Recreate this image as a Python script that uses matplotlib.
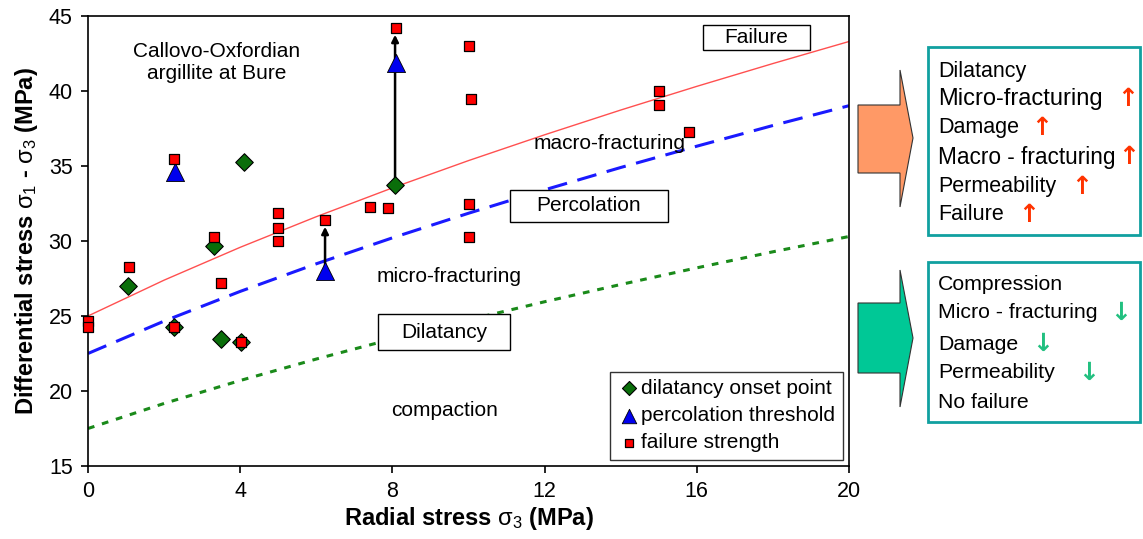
import matplotlib
matplotlib.use("Agg")
import matplotlib.pyplot as plt
from matplotlib.patches import Polygon, Rectangle

plt.rcParams['font.family'] = ['Liberation Sans', 'DejaVu Sans']
plt.rcParams['mathtext.fontset'] = 'custom'
plt.rcParams['mathtext.rm'] = 'Liberation Sans'
plt.rcParams['mathtext.it'] = 'Liberation Sans'

# =========================
# DATOS
# =========================
# failure strength
fail_x = [0, 0, 1.08, 2.26, 2.26, 3.31, 3.5, 4.02, 5.0, 5.0, 5.0, 6.23, 7.41, 7.88,
          8.09, 10.0, 10.07, 10.0, 10.0, 15.0, 15.0, 15.8]
fail_y = [24.7, 24.3, 28.3, 35.5, 24.3, 30.3, 27.2, 23.3, 31.9, 30.9, 30.0, 31.4, 32.3, 32.2,
          44.2, 43.0, 39.5, 32.5, 30.3, 40.0, 39.1, 37.3]

# dilatancy onset
dil_x = [1.05, 2.26, 3.3, 3.5, 4.1, 4.02, 8.07]
dil_y = [27.0, 24.3, 29.7, 23.5, 35.3, 23.3, 33.7]

# percolation threshold
perc_x = [2.29, 6.23, 8.09]
perc_y = [34.6, 28.0, 41.9]

# flechas (inicio -> fin)
arr_x = [2.29, 6.23, 8.07]
arr_y0 = [34.6, 28.0, 33.7]
arr_y1 = [35.5, 31.4, 44.2]

# envolventes
env_x = [0, 2, 4, 6, 8, 10, 12, 14, 16, 18, 20]
fail_env = [25.0, 27.39, 29.58, 31.62, 33.54, 35.36, 37.08, 38.73, 40.31, 41.83, 43.30]
perc_env = [22.5, 24.66, 26.64, 28.48, 30.21, 31.85, 33.41, 34.90, 36.32, 37.70, 39.02]
comp_env = [17.5, 19.17, 20.70, 22.13, 23.47, 24.74, 25.95, 27.10, 28.21, 29.28, 30.30]

W, H = 1143, 539


def fx(px):
    return px / W


def fy(py):
    return 1 - py / H


# =========================
# GRAFICAR
# =========================
fig = plt.figure(figsize=(W / 100, H / 100), dpi=100)
ax = fig.add_axes([fx(88), fy(466), fx(849) - fx(88), fy(16) - fy(466)])

ax.plot(env_x, fail_env, color='#ff5050', lw=1.0)
ax.plot(env_x, perc_env, color='#1a1aff', lw=2.2, dashes=(6.5, 3.5))
ax.plot(env_x, comp_env, color='#1a8a1a', lw=2.2, dashes=(2.2, 2.6))

for x, y0, y1 in zip(arr_x, arr_y0, arr_y1):
    ax.annotate('', xy=(x, y1 - 0.45), xytext=(x, y0),
                arrowprops=dict(arrowstyle='-|>', color='black', lw=1.8,
                                mutation_scale=10, shrinkA=0, shrinkB=0))

ax.scatter(dil_x, dil_y, marker='D', s=80, c='#0a6e0a', edgecolors='black',
           linewidths=0.8, zorder=3, clip_on=False, label='dilatancy onset point')
ax.scatter(perc_x, perc_y, marker='^', s=170, c='#0000ee', edgecolors='black',
           linewidths=0.6, zorder=4, clip_on=False, label='percolation threshold')
ax.scatter(fail_x, fail_y, marker='s', s=45, c='#ff0000', edgecolors='black',
           linewidths=0.9, zorder=5, clip_on=False, label='failure strength')

ax.set_xlim(0, 20)
ax.set_ylim(15, 45)
ax.set_xticks([0, 4, 8, 12, 16, 20])
ax.set_yticks([15, 20, 25, 30, 35, 40, 45])
ax.tick_params(direction='out', length=5, width=1.2, labelsize=15.5, pad=6)
for s in ax.spines.values():
    s.set_linewidth(1.2)
ax.set_xlabel(r'Radial stress $\sigma_3$ (MPa)', fontsize=17, fontweight='bold', labelpad=2)
ax.set_ylabel(r'Differential stress $\sigma_1$ - $\sigma_3$ (MPa)', fontsize=17,
              fontweight='bold', labelpad=6)

leg = ax.legend(loc='lower right', fontsize=15, frameon=True, fancybox=False,
                edgecolor='black', handletextpad=0.05, borderpad=0.35, labelspacing=0.4,
                handlelength=1.1, borderaxespad=0.3, markerscale=0.8)
leg.get_frame().set_linewidth(1.0)

txt = dict(ha='center', va='center', fontsize=15)
ax.text(3.39, 41.9, 'Callovo-Oxfordian\nargillite at Bure', linespacing=1.25, **txt)
ax.text(13.7, 36.5, 'macro-fracturing', **txt)
ax.text(9.5, 27.6, 'micro-fracturing', **txt)
ax.text(9.36, 18.7, 'compaction', **txt)

# cajas de zona: (x0, x1, y0, y1, texto)
zone_boxes = [(16.16, 18.98, 42.73, 44.4, 'Failure'),
              (11.09, 15.24, 31.27, 33.4, 'Percolation'),
              (7.62, 11.09, 22.73, 25.13, 'Dilatancy')]
for x0, x1, y0, y1, label in zone_boxes:
    ax.add_patch(Rectangle((x0, y0), x1 - x0, y1 - y0, fc='white', ec='black',
                           lw=1.0, zorder=2))
    ax.text((x0 + x1) / 2, (y0 + y1) / 2, label, zorder=6, **txt)

# =========================
# PANEL DERECHO
# =========================
def block_arrow(ytop, ybody_top, ybody_bot, ybot, ytip, color):
    pts = [(858, ybody_top), (900, ybody_top), (900, ytop), (913, ytip),
           (900, ybot), (900, ybody_bot), (858, ybody_bot)]
    fig.patches.append(Polygon([(fx(a), fy(b)) for a, b in pts], closed=True,
                               transform=fig.transFigure, fc=color, ec='#333333', lw=0.8))


block_arrow(70, 105, 173, 207, 138, '#ff9966')
block_arrow(270, 303, 373, 407, 338, '#00c896')

teal = '#11a0a0'
fig.patches.append(Rectangle((fx(928), fy(235)), fx(1140) - fx(928), fy(47) - fy(235),
                             transform=fig.transFigure, fill=False, ec=teal, lw=2))
fig.patches.append(Rectangle((fx(928), fy(422)), fx(1140) - fx(928), fy(262) - fy(422),
                             transform=fig.transFigure, fill=False, ec=teal, lw=2))

up_lines = [('Dilatancy', 71, 15.5, None),
            ('Micro-fracturing', 99, 17, 1128),
            ('Damage', 128, 15.5, 1042),
            ('Macro - fracturing', 157, 16.3, 1129),
            ('Permeability', 187, 15.5, 1082),
            ('Failure', 215, 15.5, 1029)]
for label, py, fs, ax_px in up_lines:
    fig.text(fx(938), fy(py), label, fontsize=fs, va='center', ha='left')
    if ax_px:
        fig.text(fx(ax_px), fy(py), '↑', fontsize=18, color='#ff3300', va='center',
                 ha='center', family=['DejaVu Sans'], fontweight='bold')

down_lines = [('Compression', 285, None),
              ('Micro - fracturing', 313, 1121),
              ('Damage', 344, 1043),
              ('Permeability', 373, 1089),
              ('No failure', 402, None)]
for label, py, ax_px in down_lines:
    fig.text(fx(938), fy(py), label, fontsize=15.3, va='center', ha='left')
    if ax_px:
        fig.text(fx(ax_px), fy(py), '↓', fontsize=18, color='#22c080', va='center',
                 ha='center', family=['DejaVu Sans'], fontweight='bold')

fig.savefig('out.png', dpi=100)
